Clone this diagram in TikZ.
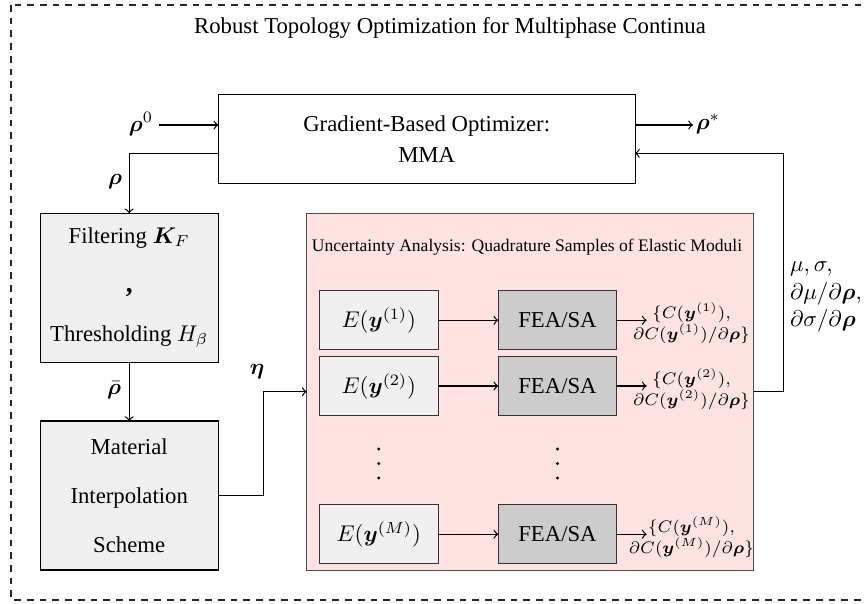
\RequirePackage{fix-cm}
\documentclass[tikz,border=0pt]{standalone}
\usepackage{amsmath}
\usepackage{bm}
\usepackage[no-math]{fontspec}
\setmainfont{Liberation Serif}

\begin{document}
\begin{tikzpicture}[x=0.44pt,y=-0.44pt,
  every node/.style={inner sep=0pt, outer sep=0pt},
  bx/.style 2 args={minimum width=#1*0.44pt, minimum height=#2*0.44pt, align=center},
  optbox/.style={draw=black, line width=0.45pt, fill=white},
  procbox/.style={draw=black, line width=0.45pt, fill=black!6},
  uqbox/.style={draw=black!70, line width=0.45pt, fill=red!11},
  samplebox/.style={draw=black!80, line width=0.45pt, fill=black!6},
  feabox/.style={draw=black!80, line width=0.45pt, fill=black!20},
  link/.style={->, line width=0.55pt},
  outlabel/.style={align=center, font={\fontsize{7.35}{9.4}\selectfont\lineskiplimit=-20pt\lineskip=0pt}},
  dotmark/.style={circle, fill=black, minimum size=3.2*0.44pt},
]
\useasboundingbox (0,0) rectangle (867,604);

% outer dashed frame
\draw[black!85, line width=0.45pt, dash pattern=on 2.95pt off 2.65pt] (11,5) rectangle (872,600);
\node (title) at (450,28) {Robust Topology Optimization for Multiphase Continua};

% optimizer
\node[optbox, bx={416.7}{89}, font=\fontsize{10}{13.6}\selectfont] (opt) at (426.7,138.8)
  {Gradient-Based Optimizer:\\MMA};
\node (rho0) at (141,124) {$\bm{\rho}^0$};
\node (rhostar) at (708,124) {$\bm{\rho}^{*}$};
\coordinate (instart) at (159,125);
\coordinate (optin) at (218.3,125);
\coordinate (optout) at (635,125);
\coordinate (outend) at (693,125);
\draw[link] (instart) -- (optin);
\draw[link] (optout) -- (outend);

% filtering and interpolation
\node[procbox, bx={178}{149}, font=\fontsize{10}{21.5}\selectfont] (filt) at (129.2,287.8)
  {Filtering $\bm{K}_F$\\{\large\bfseries ,}\\Thresholding $H_\beta$};
\node[procbox, bx={178}{149}, font=\fontsize{10}{21.5}\selectfont] (mat) at (129.2,495.5)
  {Material\\Interpolation\\Scheme};

\coordinate (optleft) at (218.3,153.3);
\draw[link] (optleft) -| (filt.north);
\node (rho) at (115,182) {$\bm{\rho}$};
\draw[link] (filt.south) -- (mat.north);
\node (rhobar) at (114,390) {$\bar{\bm{\rho}}$};

% uncertainty analysis block
\node[uqbox, bx={447}{356.7}] (unc) at (530.2,391.7) {};
\node[font=\fontsize{7.74}{9}\selectfont] (unctitle) at (527,247)
  {Uncertainty Analysis: Quadrature Samples of Elastic Moduli};

\coordinate (etaknee) at (263.3,495.5);
\draw[link] (mat.east) -- (etaknee) |- (unc.west);
\node (eta) at (257,372) {$\bm{\eta}$};

% quadrature samples
\node[samplebox, bx={119}{59.3}] (e1) at (378.8,320.3) {$E(\bm{y}^{(1)})$};
\node[samplebox, bx={119}{59.3}] (e2) at (378.8,386) {$E(\bm{y}^{(2)})$};
\node[samplebox, bx={119}{59.3}] (em) at (378.8,534.2) {$E(\bm{y}^{(M)})$};
\node[feabox, bx={118.4}{59.3}] (f1) at (557.5,320.3) {FEA/SA};
\node[feabox, bx={118.4}{59.3}] (f2) at (557.5,386) {FEA/SA};
\node[feabox, bx={118.4}{59.3}] (fm) at (557.5,534.2) {FEA/SA};
\draw[link] (e1) -- (f1);
\draw[link] (e2) -- (f2);
\draw[link] (em) -- (fm);

\foreach \yy/\nm in {449/a,463.5/b,478/c}{
  \node[dotmark] (dE\nm) at (378.8,\yy) {};
  \node[dotmark] (dF\nm) at (557.5,\yy) {};
}

\node[outlabel] (o1) at (691.5,323) {$\{C(\bm{y}^{(1)}),$\\$\partial C(\bm{y}^{(1)})/\partial\bm{\rho}\}$};
\node[outlabel] (o2) at (691.5,389) {$\{C(\bm{y}^{(2)}),$\\$\partial C(\bm{y}^{(2)})/\partial\bm{\rho}\}$};
\node[outlabel] (om) at (691.5,537) {$\{C(\bm{y}^{(M)}),$\\$\partial C(\bm{y}^{(M)})/\partial\bm{\rho}\}$};
\coordinate (t1) at (646.7,320.3);
\coordinate (t2) at (646.7,386);
\coordinate (tm) at (646.7,534.2);
\draw[link] (f1) -- (t1);
\draw[link] (f2) -- (t2);
\draw[link] (fm) -- (tm);

% feedback of statistics to the optimizer
\coordinate (fbx) at (783.3,391.7);
\coordinate (optback) at (635,153.3);
\draw[link] (unc.east) -- (fbx) |- (optback);
\node[anchor=west, align=left, font=\fontsize{10}{12}\selectfont] (stats) at (790,297)
  {$\mu, \sigma,$\\$\partial\mu/\partial\bm{\rho},$\\$\partial\sigma/\partial\bm{\rho}$};
\end{tikzpicture}
\end{document}
